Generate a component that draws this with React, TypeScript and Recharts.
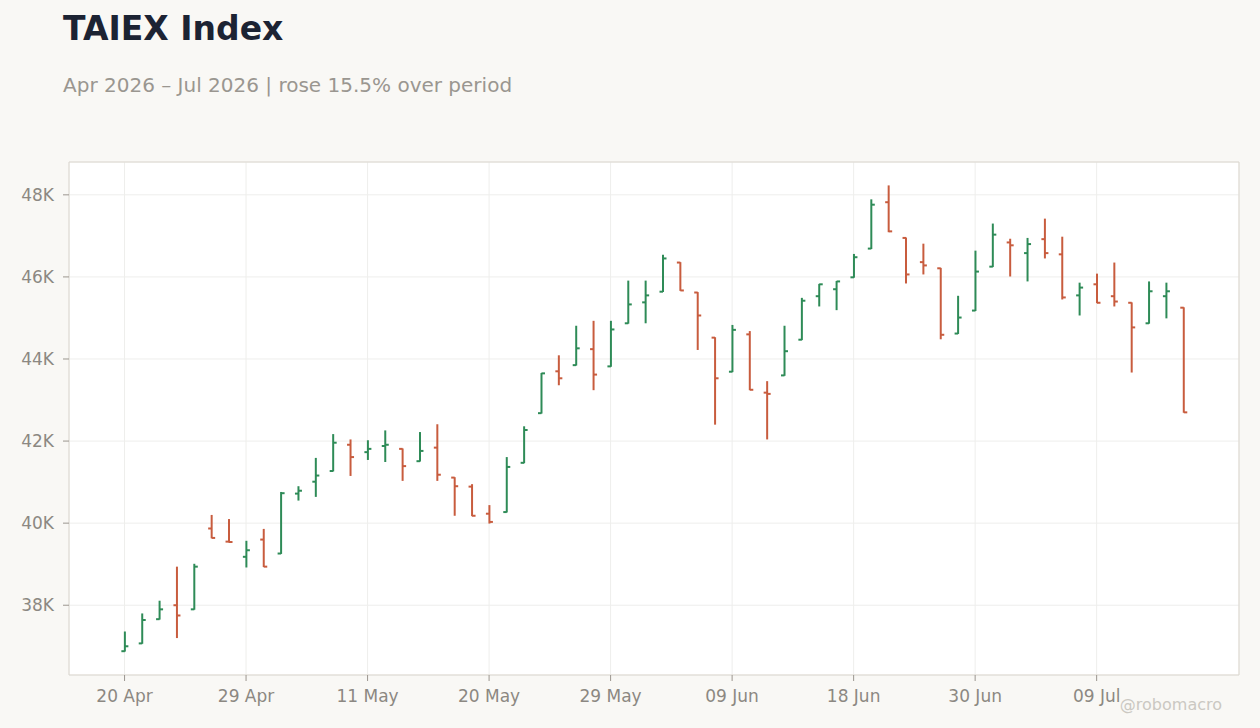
import React from "react";
import { ComposedChart, Bar, XAxis, YAxis, CartesianGrid, ReferenceArea } from "recharts";

const dates = [
  "20 Apr", "21 Apr", "22 Apr", "23 Apr", "24 Apr", "27 Apr", "28 Apr", "29 Apr", "30 Apr",
  "04 May", "05 May", "06 May", "07 May", "08 May", "11 May", "12 May", "13 May", "14 May", "15 May",
  "18 May", "19 May", "20 May", "21 May", "22 May", "25 May", "26 May", "27 May", "28 May", "29 May",
  "01 Jun", "02 Jun", "03 Jun", "04 Jun", "05 Jun", "08 Jun", "09 Jun", "10 Jun", "11 Jun", "12 Jun",
  "15 Jun", "16 Jun", "17 Jun", "18 Jun", "22 Jun", "23 Jun", "24 Jun", "25 Jun", "26 Jun", "29 Jun",
  "30 Jun", "01 Jul", "02 Jul", "03 Jul", "06 Jul", "07 Jul", "08 Jul", "09 Jul", "10 Jul", "13 Jul",
  "14 Jul", "15 Jul", "16 Jul",
];

const opens = [
  36880, 37070, 37660, 38000, 37900, 39870, 39550, 39180, 39600, 39260,
  40720, 41010, 41270, 41910, 41730, 41880, 41810, 41510, 41840, 41110,
  40890, 40230, 40270, 41470, 42680, 43700, 43850, 44240, 43820, 44870,
  45380, 45640, 46350, 45620, 44520, 43690, 44600, 43180, 43600, 44470,
  45530, 45700, 45990, 46690, 47820, 46950, 46360, 46210, 44620, 45180,
  46250, 46840, 46580, 46920, 46550, 45550, 45820, 45530, 45370, 44870,
  45530, 45250,
];
const highs = [
  37360, 37800, 38110, 38940, 39010, 40200, 40100, 39570, 39860, 40760,
  40900, 41590, 42170, 42040, 42020, 42260, 41820, 42220, 42410, 41120,
  40950, 40440, 41610, 42360, 43660, 44090, 44810, 44930, 44930, 45910,
  45910, 46540, 46360, 45630, 44530, 44830, 44680, 43460, 44810, 45490,
  45830, 45900, 46560, 47890, 48230, 46960, 46810, 46220, 45540, 46640,
  47300, 46930, 46950, 47420, 46980, 45860, 46080, 46350, 45380, 45890,
  45860, 45260,
];
const lows = [
  36870, 37060, 37650, 37200, 37890, 39630, 39530, 38920, 38930, 39250,
  40550, 40640, 41260, 41150, 41540, 41490, 41030, 41500, 41030, 40180,
  40170, 39990, 40260, 41460, 42670, 43360, 43840, 43240, 43810, 44860,
  44870, 45630, 45660, 44220, 42400, 43680, 43240, 42040, 43590, 44460,
  45280, 45190, 45980, 46680, 47090, 45840, 46060, 44480, 44610, 45170,
  46240, 46010, 45890, 46450, 45450, 45060, 45360, 45280, 43670, 44860,
  44990, 42690,
];
const closes = [
  37000, 37640, 37900, 37750, 38940, 39640, 39540, 39340, 38940, 40730,
  40790, 41160, 41960, 41610, 41810, 41910, 41390, 41760, 41180, 40900,
  40180, 40030, 41370, 42270, 43650, 43530, 44260, 43620, 44720, 45330,
  45550, 46450, 45670, 45060, 43530, 44710, 43250, 43150, 44190, 45420,
  45820, 45890, 46480, 47760, 47110, 46060, 46280, 44590, 45010, 46130,
  47030, 46770, 46800, 46580, 45500, 45740, 45370, 45400, 44770, 45650,
  45650, 42700,
];

const xTicks = [0, 7, 14, 21, 28, 35, 42, 49, 56];
const yTicks = [38000, 40000, 42000, 44000, 46000, 48000];
const xDomain = [-3.2, 64.2];
const yDomain = [36300, 48800];

const UP = "#2e8b57";
const DOWN = "#c85c3e";
const FONT = "DejaVu Sans, Verdana, sans-serif";

const data = dates.map((d, i) => ({
  i,
  date: d,
  open: opens[i],
  high: highs[i],
  low: lows[i],
  close: closes[i],
}));

const OhlcShape = (props: any) => {
  const { x, y, width, height, payload } = props;
  if (!payload || x == null || y == null) return null;
  const top = Math.min(y, y + height);
  const h = Math.abs(height);
  const cx = x + width / 2;
  const range = payload.high - payload.low || 1;
  const yOf = (v: number) => top + ((payload.high - v) / range) * h;
  const color = payload.close >= payload.open ? UP : DOWN;
  const yo = yOf(payload.open);
  const yc = yOf(payload.close);
  return (
    <g>
      <line x1={cx} x2={cx} y1={top} y2={top + h} stroke={color} strokeWidth={2} />
      <line x1={cx - 3.5} x2={cx} y1={yo} y2={yo} stroke={color} strokeWidth={2} />
      <line x1={cx} x2={cx + 3.5} y1={yc} y2={yc} stroke={color} strokeWidth={2} />
    </g>
  );
};

export default function App() {
  return (
    <div
      style={{
        position: "fixed",
        left: 0,
        top: 0,
        width: 1260,
        height: 728,
        background: "#f9f8f5",
        overflow: "hidden",
      }}
    >
      <ComposedChart
        width={1260}
        height={728}
        data={data}
        margin={{ top: 162, right: 21, bottom: 0, left: 9 }}
      >
        <CartesianGrid stroke="#eeeeec" fill="#ffffff" />
        <XAxis
          dataKey="i"
          type="number"
          domain={xDomain}
          ticks={xTicks}
          allowDataOverflow
          height={53}
          axisLine={false}
          tickLine={{ stroke: "#9b968f" }}
          tickSize={6}
          tickMargin={9}
          tick={{ fontSize: 17, fill: "#8c8882", fontFamily: FONT }}
          tickFormatter={(v: number) => dates[v] ?? ""}
        />
        <YAxis
          type="number"
          domain={yDomain}
          ticks={yTicks}
          allowDataOverflow
          width={60}
          axisLine={false}
          tickLine={{ stroke: "#9b968f" }}
          tickSize={6}
          tickMargin={9}
          tick={{ fontSize: 17, fill: "#8c8882", fontFamily: FONT }}
          tickFormatter={(v: number) => `${Math.round(v / 1000)}K`}
        />
        <ReferenceArea
          x1={xDomain[0]}
          x2={xDomain[1]}
          y1={yDomain[0]}
          y2={yDomain[1]}
          fill="none"
          fillOpacity={0}
          stroke="#dcd7cf"
          strokeWidth={1}
          ifOverflow="visible"
        />
        <Bar
          dataKey={(d: any) => [d.low, d.high]}
          barSize={8}
          shape={OhlcShape}
          isAnimationActive={false}
        />
      </ComposedChart>
      <svg
        width={1260}
        height={728}
        style={{ position: "absolute", left: 0, top: 0, pointerEvents: "none" }}
      >
        <text x={63} y={40} fontFamily={FONT} fontSize={33} fontWeight="bold" fill="#1c2333">
          TAIEX Index
        </text>
        <text x={63} y={92} fontFamily={FONT} fontSize={20} fill="#9a9690">
          Apr 2026 – Jul 2026 | rose 15.5% over period
        </text>
        <text x={1222} y={710} fontFamily={FONT} fontSize={16} fill="#cbc8c2" textAnchor="end">
          @robomacro
        </text>
      </svg>
    </div>
  );
}
